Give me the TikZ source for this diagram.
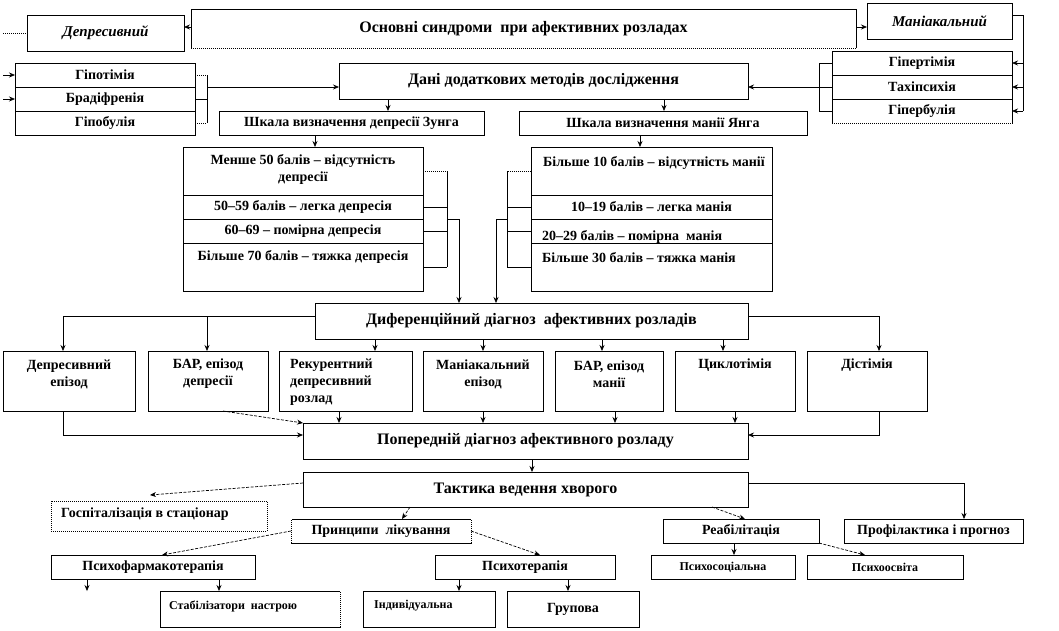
\documentclass[tikz,border=0pt]{standalone}
\usepackage{fontspec}
\setmainfont{Liberation Serif}
\usetikzlibrary{arrows.meta}
\newcommand\fnorm{\fontsize{14}{17}\selectfont\bfseries}
\newcommand\fhead{\fontsize{16}{19}\selectfont\bfseries}
\newcommand\fsmall{\fontsize{12}{14}\selectfont\bfseries}
\newcommand\fital{\fontsize{15}{18}\selectfont\bfseries\itshape}
\newcommand\mybox[7][]{\node[box,minimum width={(#5-#3)*1pt},minimum height={(#6-#4)*1pt},#1] (#2) at (#3,#4) {#7};}
\begin{document}
\begin{tikzpicture}[x=1pt,y=-1pt,
  box/.style={draw,line width=0.7pt,inner sep=0pt,outer sep=0pt,anchor=north west,font=\fnorm,align=center},
  lbl/.style={font=\fnorm,align=center,inner sep=0pt},
  lbll/.style={font=\fnorm,align=left,inner sep=0pt},
  arr/.style={line width=0.7pt,-{Stealth[length=6pt,width=5pt]}},
  ln/.style={line width=0.7pt},
  dsh/.style={dash pattern=on 3pt off 1.5pt},
  dot/.style={line width=0.7pt,dash pattern=on 1pt off 1pt}]
\fill[white] (0,0) rectangle (1059,630);
\useasboundingbox (0,0) rectangle (1059,630);
% top row
\mybox[draw=none,font=\fhead]{main}{191}{9}{856}{48}{Основні синдроми\ \ при афективних розладах}
\draw[ln] (main.south west) -- (main.north west) -- (main.north east) -- (main.south east);
\draw[dot] (main.south west) -- (main.south east);
\mybox[font=\fital]{dep}{27}{15}{184}{51}{Депресивний}
\mybox[font=\fital]{man}{867}{3}{1012}{39}{Маніакальний}
% symptom groups
\mybox{lg1}{15}{63}{195}{87}{Гіпотімія}
\mybox{lg2}{15}{87}{195}{111}{Брадіфренія}
\mybox{lg3}{15}{111}{195}{135}{Гіпобулія}
\mybox[font=\fhead]{dani}{339}{63}{748}{99}{Дані додаткових методів дослідження}
\mybox{rg1}{832}{51}{1012}{75}{Гіпертімія}
\mybox{rg2}{832}{75}{1012}{99}{Тахіпсихія}
\mybox{rg3}{832}{99}{1012}{123}{Гіпербулія}
\draw[white,line width=1pt] (rg3.south west) -- (rg3.south east);
\draw[dot] (rg3.south west) -- (rg3.south east);
% scales
\mybox{zung}{219}{111}{484}{135}{Шкала визначення депресії Зунга}
\mybox{yang}{519}{111}{807}{135}{Шкала визначення манії Янга}
\mybox[label={[lbl,yshift=2pt]center:{Менше 50 балів – відсутність\\депресії}}]{ls1}{183}{147}{423}{195}{}
\mybox{ls2}{183}{195}{423}{219}{50–59 балів – легка депресія}
\mybox{ls3}{183}{219}{423}{243}{60–69 – помірна депресія}
\mybox[label={[lbl,yshift=10pt]center:{Більше 70 балів – тяжка депресія}}]{ls4}{183}{243}{423}{291}{}
\mybox[label={[lbll,anchor=west,xshift=12pt,yshift=8pt]west:{Більше 10 балів – відсутність манії}}]{rs1}{531}{147}{772}{195}{}
\mybox{rs2}{531}{195}{772}{219}{10–19 балів – легка манія}
\mybox[label={[lbll,anchor=west,xshift=11pt,yshift=-6pt]west:{20–29 балів – помірна\ \ манія}}]{rs3}{531}{219}{772}{243}{}
\mybox[label={[lbll,anchor=west,xshift=11pt,yshift=9pt]west:{Більше 30 балів – тяжка манія}}]{rs4}{531}{243}{772}{291}{}
% differential
\mybox[font=\fhead]{dif}{315}{303}{748}{339}{Диференційний діагноз\ \ афективних розладів}
\mybox[label={[lbl,yshift=7pt]center:{Депресивний\\епізод}}]{r1}{3}{351}{135}{411}{}
\mybox[label={[lbl,yshift=7pt]center:{БАР, епізод\\депресії}}]{r2}{148}{351}{268}{411}{}
\mybox[label={[lbll,anchor=west,xshift=11pt,yshift=-1pt]west:{Рекурентний\\депресивний\\розлад}}]{r3}{279}{351}{412}{411}{}
\mybox[label={[lbl,yshift=7pt]center:{Маніакальний\\епізод}}]{r4}{423}{351}{543}{411}{}
\mybox[label={[lbl,yshift=7pt]center:{БАР, епізод\\манії}}]{r5}{555}{351}{663}{411}{}
\mybox[label={[lbl,yshift=16pt]center:{Циклотімія}}]{r6}{675}{351}{795}{411}{}
\mybox[label={[lbl,yshift=16pt]center:{Дістімія}}]{r7}{807}{351}{927}{411}{}
\mybox[font=\fhead]{pop}{303}{423}{748}{459}{Попередній діагноз афективного розладу}
\mybox[font=\fhead]{tak}{303}{472}{748}{507}{Тактика ведення хворого}
% management
\mybox[dot,label={[lbll,anchor=west,xshift=10pt,yshift=2pt]west:{Госпіталізація в стаціонар}}]{gosp}{51}{501}{267}{531}{}
\mybox{pri}{291}{519}{471}{543}{Принципи\ \ лікування}
\draw[white,line width=1pt] (pri.south west) -- (pri.north west) (pri.south east) -- (pri.north east);
\draw[dot] (pri.south west) -- (pri.north west) (pri.south east) -- (pri.north east);
\mybox{reab}{663}{519}{819}{543}{Реабілітація}
\mybox{prof}{844}{519}{1023}{543}{Профілактика і прогноз}
\mybox{psf}{51}{555}{255}{579}{Психофармакотерапія}
\mybox{pst}{435}{555}{615}{579}{Психотерапія}
\mybox[font=\fsmall]{pss}{651}{555}{795}{579}{Психосоціальна}
\mybox[font=\fsmall]{pso}{807}{555}{963}{579}{Психоосвіта}
\mybox[label={[lbll,font=\fsmall,anchor=west,xshift=9pt,yshift=3pt]west:{Стабілізатори\ \ настрою}}]{stab}{160}{591}{340}{627}{}
\draw[white,line width=1pt] (stab.south east) -- (stab.north east);
\draw[dot] (stab.south east) -- (stab.north east);
\mybox[label={[lbll,font=\fsmall,anchor=west,xshift=11pt,yshift=3pt]west:{Індивідуальна}}]{ind}{363}{591}{495}{627}{}
\mybox{grp}{507}{591}{639}{627}{Групова}
% free ends
\coordinate (dl) at (3,33);
\coordinate (la1) at (3,75);
\coordinate (la2) at (3,99);
\coordinate (gtip) at (150,495);
\coordinate (ftip) at (87,591);
% connectors top
\draw[arr] (main.west |- 0,27) -- (dep.east |- 0,27);
\draw[arr] (main.east |- 0,27) -- (man.west |- 0,27);
\draw[dot] (dl) -- (dep.west |- dl);
\draw[arr] (la1) -- (lg1.west);
\draw[arr] (la2) -- (lg2.west);
\draw[dot] (lg1.east) -- (207,0 |- lg1.east);
\draw[dot] (lg3.east) -- (207,0 |- lg3.east);
\draw[ln] (207,0 |- lg1.east) -- (207,0 |- lg3.east);
\draw[ln] (lg2.east) -- (207,0 |- lg2.east);
\draw[arr] (207,87) -- (dani.west |- 0,87);
\draw[ln] (man.east |- 0,15) -- (1023,15) -- (1023,0 |- rg3.east);
\draw[arr] (1023,0 |- rg1.east) -- (rg1.east);
\draw[arr] (1023,0 |- rg2.east) -- (rg2.east);
\draw[arr] (1023,0 |- rg3.east) -- (rg3.east);
\draw[ln] (rg1.west) -- (819,0 |- rg1.west) -- (819,0 |- rg3.west) -- (rg3.west);
\draw[arr] (rg2.west) -- (dani.east |- rg2.west);
\draw[arr] (388,0 |- dani.south) -- (388,0 |- zung.north);
\draw[arr] (664,0 |- dani.south) -- (664,0 |- yang.north);
\draw[arr] (315,0 |- zung.south) -- (315,0 |- ls1.north);
\draw[arr] (640,0 |- yang.south) -- (640,0 |- rs1.north);
% scale brackets
\draw[dot] (ls1.east) -- (447,0 |- ls1.east);
\draw[ln] (447,0 |- ls1.east) -- (447,0 |- ls4.east);
\draw[ln] (ls2.east) -- (447,0 |- ls2.east);
\draw[ln] (ls3.east) -- (447,0 |- ls3.east);
\draw[ln] (ls4.east) -- (447,0 |- ls4.east);
\draw[arr] (447,219) -- (459,219) -- (459,0 |- dif.north);
\draw[dot] (rs1.west) -- (507,0 |- rs1.west);
\draw[ln] (507,0 |- rs1.west) -- (507,0 |- rs4.west);
\draw[ln] (rs2.west) -- (507,0 |- rs2.west);
\draw[ln] (rs3.west) -- (507,0 |- rs3.west);
\draw[ln] (rs4.west) -- (507,0 |- rs4.west);
\draw[arr] (507,219) -- (496,219) -- (496,0 |- dif.north);
% differential connectors
\draw[arr] (dif.west |- 0,316) -- (63,316) -- (63,0 |- r1.north);
\draw[arr] (207,316) -- (207,0 |- r2.north);
\draw[arr] (375,0 |- dif.south) -- (375,0 |- r3.north);
\draw[arr] (483,0 |- dif.south) -- (483,0 |- r4.north);
\draw[arr] (602,0 |- dif.south) -- (602,0 |- r5.north);
\draw[arr] (723,0 |- dif.south) -- (723,0 |- r6.north);
\draw[arr] (dif.east |- 0,316) -- (879,316) -- (879,0 |- r7.north);
\draw[arr] (63,0 |- r1.south) -- (63,435) -- (pop.west |- 0,435);
\draw[arr,dsh] (223,0 |- r2.south) -- (pop.north west);
\draw[arr] (339,0 |- r3.south) -- (339,0 |- pop.north);
\draw[arr] (483,0 |- r4.south) -- (483,0 |- pop.north);
\draw[arr] (615,0 |- r5.south) -- (615,0 |- pop.north);
\draw[arr] (735,0 |- r6.south) -- (735,0 |- pop.north);
\draw[arr] (879,0 |- r7.south) -- (879,435) -- (pop.east |- 0,435);
\draw[arr] (532,0 |- pop.south) -- (532,0 |- tak.north);
% management connectors
\draw[arr,dsh] (tak.west |- 0,483) -- (gtip);
\draw[arr,dsh] (410,0 |- tak.south) -- (402,0 |- pri.north);
\draw[arr,dsh] (712,0 |- tak.south) -- (745,0 |- reab.north);
\draw[arr] (tak.east |- 0,483) -- (964,483) -- (964,0 |- prof.north);
\draw[arr,dsh] (pri.west) -- (162,0 |- psf.north);
\draw[arr,dsh] (pri.east) -- (540,0 |- pst.north);
\draw[arr] (734,0 |- reab.south) -- (734,0 |- pss.north);
\draw[arr,dsh] (reab.south east) -- (865,0 |- pso.north);
\draw[arr] (87,0 |- psf.south) -- (ftip);
\draw[arr] (219,0 |- psf.south) -- (219,0 |- stab.north);
\draw[arr] (459,0 |- pst.south) -- (459,0 |- ind.north);
\draw[arr] (568,0 |- pst.south) -- (568,0 |- grp.north);
\end{tikzpicture}
\end{document}
